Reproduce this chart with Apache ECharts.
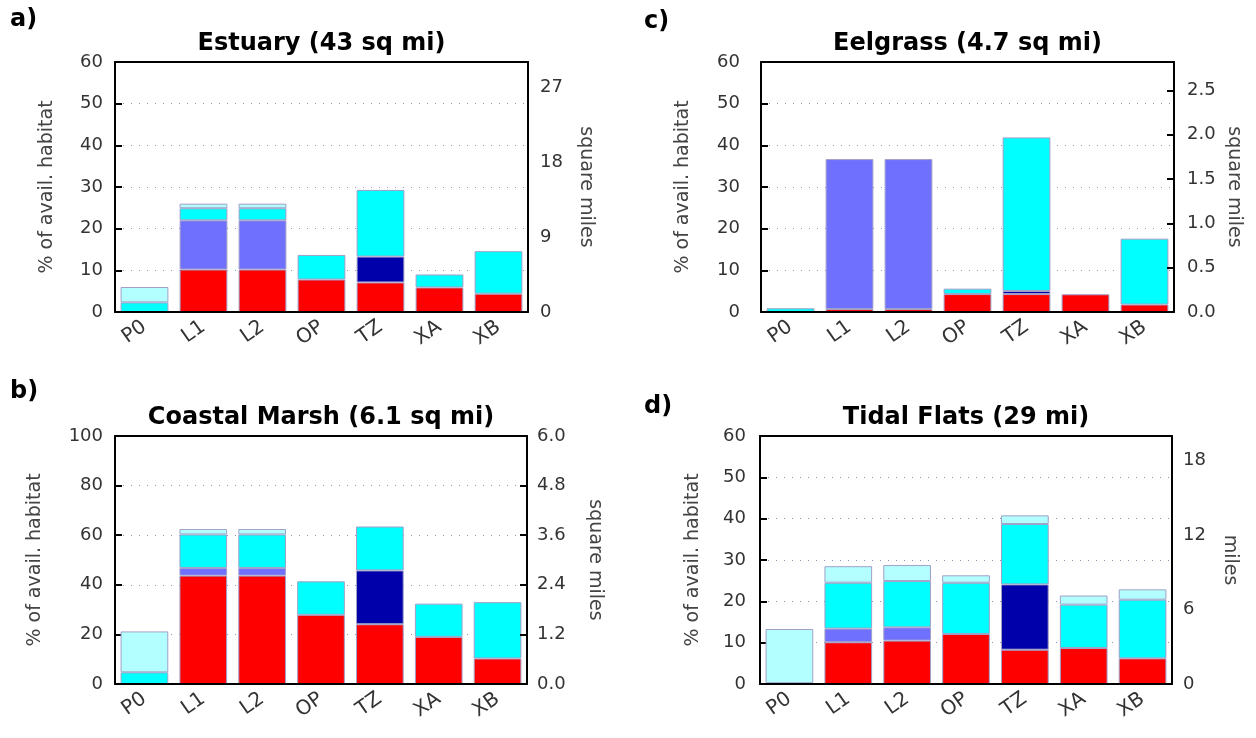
<!DOCTYPE html>
<html>
<head>
<meta charset="utf-8">
<script src="https://cdn.jsdelivr.net/npm/echarts@6/dist/echarts.min.js"></script>
<style>html,body{margin:0;padding:0;background:#fff}#c{width:1256px;height:738px}</style>
</head>
<body>
<div id="c"></div>
<script>
// ---- data ----
const categories = ['P0', 'L1', 'L2', 'OP', 'TZ', 'XA', 'XB'];
const seriesNames = ['red', 'navy', 'blue', 'cyan', 'lightcyan'];

const panelLetters = ['a)', 'b)', 'c)', 'd)'];
const panelTitles = ['Estuary (43 sq mi)', 'Coastal Marsh (6.1 sq mi)', 'Eelgrass (4.7 sq mi)', 'Tidal Flats (29 mi)'];
const rightAxisNames = ['square miles', 'square miles', 'square miles', 'miles'];

// segment heights (% of available habitat), stacked bottom to top
// a) Estuary
const estuaryRed       = [null, 10.2, 10.2, 7.8, 7.1, 5.9, 4.4];
const estuaryNavy      = [null, null, null, null, 6.2, null, null];
const estuaryBlue      = [null, 11.8, 11.8, null, null, null, null];
const estuaryCyan      = [2.3, 2.9, 2.9, 5.9, 16.0, 3.1, 10.2];
const estuaryLightCyan = [3.7, 1.1, 1.1, null, null, null, null];
// b) Coastal Marsh
const marshRed       = [null, 43.7, 43.7, 27.9, 24.1, 19.0, 10.3];
const marshNavy      = [null, null, null, null, 21.7, null, null];
const marshBlue      = [null, 3.1, 3.1, null, null, null, null];
const marshCyan      = [4.7, 13.5, 13.5, 13.5, 17.7, 13.4, 22.7];
const marshLightCyan = [16.5, 2.2, 2.2, null, null, null, null];
// c) Eelgrass
const eelRed       = [null, 0.7, 0.7, 4.3, 4.3, 4.25, 1.8];
const eelNavy      = [null, null, null, null, 0.75, null, null];
const eelBlue      = [null, 36.0, 36.0, null, null, null, null];
const eelCyan      = [0.9, null, null, 1.3, 36.85, null, 15.8];
const eelLightCyan = [null, null, null, null, null, null, null];
// d) Tidal Flats
const flatsRed       = [null, 10.1, 10.5, 12.1, 8.3, 8.7, 6.2];
const flatsNavy      = [null, null, null, null, 15.8, null, null];
const flatsBlue      = [null, 3.3, 3.2, null, null, null, null];
const flatsCyan      = [0.2, 11.1, 11.2, 12.4, 14.6, 10.5, 14.2];
const flatsLightCyan = [13.1, 4.0, 3.9, 1.8, 2.1, 2.2, 2.5];

// axis ranges
const leftMax = [60, 100, 60, 60];
const leftInterval = [10, 20, 10, 10];
const rightMax = [30, 6, 2.82, 20];
const rightInterval = [9, 1.2, 0.5, 6];
const rightDecimals = [0, 1, 1, 0];

// ---- styling / layout ----
const colors = ['#ff0000', '#0000aa', '#7070ff', '#00ffff', '#b3ffff'];
const panelData = [
  [estuaryRed, estuaryNavy, estuaryBlue, estuaryCyan, estuaryLightCyan],
  [marshRed, marshNavy, marshBlue, marshCyan, marshLightCyan],
  [eelRed, eelNavy, eelBlue, eelCyan, eelLightCyan],
  [flatsRed, flatsNavy, flatsBlue, flatsCyan, flatsLightCyan]
];
// plot boxes: [x0, y0(top), x1, y1(bottom)]
const boxes = [
  [115, 62, 528, 312],
  [115, 436, 527, 684],
  [761, 62, 1174, 312],
  [760, 436, 1172, 684]
];
const leftLabelMargin = [12, 12, 21, 14];
const leftNameGap = [58, 70, 68, 57];
const rightLabelMargin = [12, 10, 13, 11];
const rightNameGap = [48, 58, 50, 48];
const rightTicks = [false, true, true, false];
const letterPos = [[10, 8], [10, 380], [644, 10], [644, 395]];

const FONT = 'DejaVu Sans';
const W = 1256, H = 738;

const grids = [], xAxes = [], yAxes = [], series = [], graphics = [];
boxes.forEach((b, i) => {
  grids.push({
    left: b[0], top: b[1], right: W - b[2], bottom: H - b[3],
    show: false, containLabel: false, outerBoundsMode: 'none'
  });
  xAxes.push({
    type: 'category', gridIndex: i, data: categories, position: 'bottom',
    axisLine: { onZero: false, lineStyle: { color: '#000', width: 2 } },
    axisTick: { alignWithLabel: true, length: 9, lineStyle: { color: '#000', width: 2 } },
    axisLabel: { rotate: 35, margin: 13, fontSize: 20, fontFamily: FONT, color: '#333' },
    splitLine: { show: false }, z: 5
  });
  // top frame line
  xAxes.push({
    type: 'category', gridIndex: i, data: categories, position: 'top',
    axisLine: { onZero: false, lineStyle: { color: '#000', width: 2 } },
    axisTick: { show: false }, axisLabel: { show: false },
    splitLine: { show: false }, z: 5
  });
  yAxes.push({
    type: 'value', gridIndex: i, position: 'left', min: 0, max: leftMax[i], interval: leftInterval[i],
    name: '% of avail. habitat', nameLocation: 'middle', nameGap: leftNameGap[i], nameRotate: 90,
    nameTextStyle: { fontSize: 19, fontFamily: FONT, color: '#444' },
    axisLine: { show: true, onZero: false, lineStyle: { color: '#000', width: 2 } },
    axisTick: { show: true, inside: true, length: 7, lineStyle: { color: '#000', width: 2 } },
    axisLabel: { margin: leftLabelMargin[i], fontSize: 18, fontFamily: FONT, color: '#333' },
    splitLine: { show: true, lineStyle: { color: '#9090c0', width: 1, type: [1, 7] } }
  });
  const dec = rightDecimals[i];
  yAxes.push({
    type: 'value', gridIndex: i, position: 'right', min: 0, max: rightMax[i], interval: rightInterval[i],
    name: rightAxisNames[i], nameLocation: 'middle', nameGap: rightNameGap[i], nameRotate: -90,
    nameTextStyle: { fontSize: 19, fontFamily: FONT, color: '#444' },
    axisLine: { show: true, onZero: false, lineStyle: { color: '#000', width: 2 } },
    axisTick: { show: rightTicks[i], inside: true, length: 7, lineStyle: { color: '#000', width: 2 } },
    axisLabel: { margin: rightLabelMargin[i], fontSize: 18, fontFamily: FONT, color: '#333',
      showMaxLabel: i === 1,
      formatter: v => Number(v).toFixed(dec) },
    splitLine: { show: false }, z: 5
  });
  panelData[i].forEach((arr, k) => {
    series.push({
      type: 'bar', name: seriesNames[k], xAxisIndex: i * 2, yAxisIndex: i * 2,
      stack: 'p' + i, data: arr.map(v => v == null ? '-' : v), barWidth: '81%',
      itemStyle: { color: colors[k], borderColor: '#a0a0c8', borderWidth: 1 },
      emphasis: { disabled: true }, animation: false
    });
  });
  graphics.push({
    type: 'text', x: (b[0] + b[2]) / 2, y: b[1] - 18,
    style: { text: panelTitles[i], font: 'bold 24px "' + FONT + '"', fill: '#000', textAlign: 'center', textVerticalAlign: 'middle' }
  });
  graphics.push({
    type: 'text', x: letterPos[i][0], y: letterPos[i][1],
    style: { text: panelLetters[i], font: 'bold 24px "' + FONT + '"', fill: '#000', textAlign: 'left', textVerticalAlign: 'top' }
  });
});

const chart = echarts.init(document.getElementById('c'), null, { renderer: 'canvas' });
chart.setOption({
  animation: false,
  backgroundColor: '#fff',
  grid: grids, xAxis: xAxes, yAxis: yAxes, series: series,
  graphic: graphics
});
</script>
</body>
</html>
